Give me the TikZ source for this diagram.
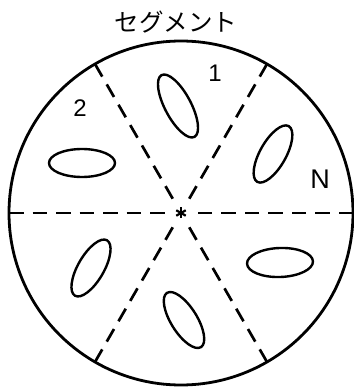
\documentclass[tikz,border=0pt]{standalone}
\usepackage{fontspec}
\usetikzlibrary{calc}
\setmainfont{Liberation Sans}
\newfontfamily\jpfont{Noto Sans CJK JP}
\begin{document}
\begin{tikzpicture}[x=1pt,y=1pt,
  rim/.style={line width=2.8pt},
  segline/.style={line width=2.7pt, dash pattern=on 14.5pt off 9pt},
  cell/.style={line width=2.4pt},
  lbl/.style={font=\fontsize{24}{24}\selectfont, inner sep=0pt}]
\useasboundingbox (0,0) rectangle (354,389);
\coordinate (c) at (181,176);
\draw[rim] (c) circle (172);
% dashed segment boundaries
\foreach \a in {0,60,120,180,240,300}
  \draw[segline] ($(c)+(\a:172)$) -- ($(c)+(\a:10)$);
% centre asterisk
\foreach \a in {90,30,150}
  \draw[line width=2.2pt] ($(c)+(\a:5.5)$) -- ($(c)+(\a+180:5.5)$);
% cells
\draw[cell] (178,283) ellipse[x radius=35, y radius=13, rotate=-62];
\draw[cell] (273,235) ellipse[x radius=32, y radius=13, rotate=60.6];
\draw[cell] (82,226) ellipse[x radius=33, y radius=14];
\draw[cell] (91,121) ellipse[x radius=32, y radius=13, rotate=60];
\draw[cell] (184,69) ellipse[x radius=32, y radius=13, rotate=-58];
\draw[cell] (280,126.5) ellipse[x radius=33, y radius=14.5, rotate=2];
% labels
\node[lbl] (one) at (215,316) {1};
\node[lbl] (two) at (80,281) {2};
\node[lbl, font=\fontsize{27}{27}\selectfont] (n) at (320,210) {N};
\node[inner sep=0pt, font=\jpfont\fontsize{24.5}{24.5}\selectfont] (title) at (176,367) {セグメント};
\end{tikzpicture}
\end{document}
